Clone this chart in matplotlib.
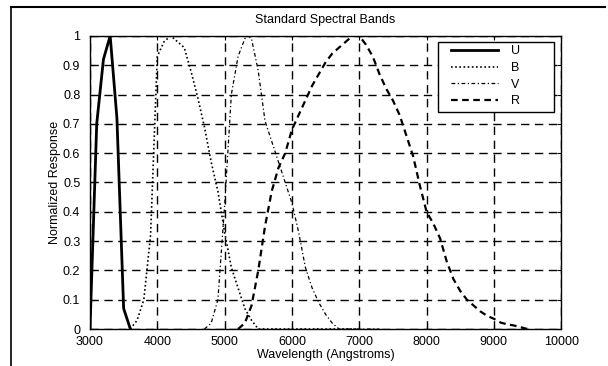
import matplotlib.pyplot as plt
import numpy as np
from matplotlib.lines import Line2D
from matplotlib.patches import Rectangle

plt.rcParams["font.family"] = ["Liberation Sans", "DejaVu Sans"]

# wavelengths in Angstroms, normalized responses
u_wave = [3000, 3100, 3200, 3300, 3400, 3500, 3600]
u_resp = [0.0, 0.7, 0.92, 1.0, 0.72, 0.07, 0.0]

b_wave = [3600, 3700, 3800, 3900, 4000, 4100, 4200, 4300, 4400, 4500, 4600,
          4700, 4800, 4900, 5000, 5100, 5200, 5300, 5400, 5500, 6000, 7000]
b_resp = [0.0, 0.03, 0.1, 0.32, 0.93, 0.98, 1.0, 0.98, 0.96, 0.88, 0.79,
          0.69, 0.57, 0.47, 0.33, 0.21, 0.14, 0.07, 0.03, 0.0, 0.0, 0.0]

v_wave = [4700, 4800, 4900, 5000, 5100, 5200, 5300, 5350, 5400, 5500, 5600,
          5700, 5800, 5900, 6000, 6100, 6200, 6300, 6400, 6500, 6600, 6700, 7300]
v_resp = [0.0, 0.02, 0.1, 0.42, 0.8, 0.93, 0.99, 1.0, 0.99, 0.88, 0.71,
          0.64, 0.57, 0.5, 0.43, 0.33, 0.21, 0.14, 0.09, 0.05, 0.02, 0.0, 0.0]

r_wave = [5200, 5300, 5400, 5500, 5600, 5700, 5800, 5900, 6000, 6100, 6200,
          6300, 6400, 6500, 6600, 6700, 6800, 6900, 7000, 7100, 7200, 7300,
          7400, 7500, 7600, 7700, 7800, 7900, 8000, 8100, 8200, 8300, 8400,
          8500, 8600, 8700, 8800, 8900, 9000, 9100, 9200, 9300, 9400, 9500]
r_resp = [0.0, 0.02, 0.08, 0.2, 0.35, 0.47, 0.55, 0.6, 0.68, 0.73, 0.78,
          0.83, 0.87, 0.91, 0.94, 0.96, 0.98, 1.0, 1.0, 0.97, 0.93, 0.87,
          0.82, 0.78, 0.73, 0.66, 0.59, 0.49, 0.4, 0.36, 0.31, 0.23, 0.17,
          0.13, 0.1, 0.08, 0.06, 0.045, 0.035, 0.022, 0.016, 0.012, 0.006, 0.0]

fig = plt.figure(figsize=(6.08, 3.66), dpi=100)
ax = fig.add_axes([0.148, 0.101, 0.775, 0.801])

ax.plot(u_wave, u_resp, color="black", lw=2.0, ls="-", label="U")
ax.plot(b_wave, b_resp, color="black", lw=1.2, ls=(0, (1, 1.5)), label="B")
ax.plot(v_wave, v_resp, color="black", lw=0.9, ls=(0, (3, 2, 1, 2)), label="V")
ax.plot(r_wave, r_resp, color="black", lw=1.6, ls=(0, (3, 2)), label="R")

ax.set_xlim(3000, 10000)
ax.set_ylim(0, 1)
ax.set_xticks(np.arange(3000, 10001, 1000))
ax.set_yticks(np.arange(0, 1.01, 0.1))
ax.set_yticklabels(["0", "0.1", "0.2", "0.3", "0.4", "0.5", "0.6", "0.7",
                    "0.8", "0.9", "1"])
ax.tick_params(labelsize=9, direction="in", length=3, width=0.8,
               top=True, right=True)
ax.tick_params(axis="y", pad=7)
ax.tick_params(axis="x", pad=5)
ax.grid(True, color="black", ls=(0, (6, 4)), lw=1.0)
for s in ax.spines.values():
    s.set_linewidth(1.0)

ax.set_title("Standard Spectral Bands", fontsize=9, pad=9)
ax.set_xlabel("Wavelength (Angstroms)", fontsize=9, labelpad=1)
ax.set_ylabel("Normalized Response", fontsize=9, labelpad=1)

# legend box is wider than its content in the original
ax.add_patch(Rectangle((0.739, 0.741), 0.246, 0.239, transform=ax.transAxes,
                       facecolor="white", edgecolor="black", lw=1.0, zorder=4))
leg = ax.legend(loc="upper left", bbox_to_anchor=(0.766, 0.968), fontsize=9,
                frameon=False, handlelength=3.8, handletextpad=1.0,
                borderpad=0.0, borderaxespad=0.0, labelspacing=0.38)
leg.set_zorder(5)

# scanned page frame
fig.add_artist(Line2D([0.018, 0.995], [0.982, 0.982], color="black", lw=1.5,
                      transform=fig.transFigure))
fig.add_artist(Line2D([0.018, 0.018], [0.0, 0.982], color="black", lw=1.2,
                      transform=fig.transFigure))

fig.savefig("out.png", dpi=100)
